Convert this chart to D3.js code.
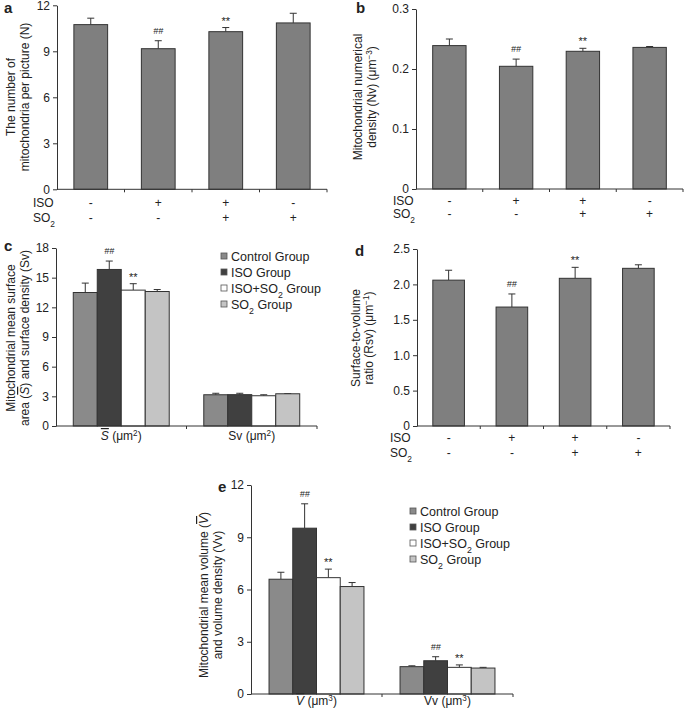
<!DOCTYPE html>
<html><head><meta charset="utf-8">
<script src="https://cdn.jsdelivr.net/npm/d3@7"></script>
<style>
body{margin:0;background:#fff}
text{font-family:"Liberation Sans",Arial,Helvetica,sans-serif;fill:#222}
</style>
</head><body>
<svg id="chart" width="685" height="716"></svg>
<script>
// ---------------- DATA ----------------
const treatments = ["Control", "ISO", "ISO+SO2", "SO2"];
const isoRow = ["-", "+", "+", "-"];
const so2Row = ["-", "-", "+", "+"];

const mitoNumber = [10.74, 9.17, 10.28, 10.85];
const mitoNumberErr = [0.42, 0.52, 0.27, 0.63];
const mitoNumberMarks = ["", "##", "**", ""];
const mitoNumberTicks = [0, 3, 6, 9, 12];

const numDensity = [0.239, 0.2045, 0.2295, 0.236];
const numDensityErr = [0.011, 0.012, 0.005, 0.0015];
const numDensityMarks = ["", "##", "**", ""];
const numDensityTicks = [0, 0.1, 0.2, 0.3];
const numDensityTickLabels = ["0", "0.1", "0.2", "0.3"];

const ratioRsv = [2.06, 1.68, 2.086, 2.227];
const ratioRsvErr = [0.14, 0.185, 0.155, 0.05];
const ratioRsvMarks = ["", "##", "**", ""];
const ratioTicks = [0, 0.5, 1.0, 1.5, 2.0, 2.5];
const ratioTickLabels = ["0", "0.5", "1.0", "1.5", "2.0", "2.5"];

const groupNames = ["Control Group", "ISO Group", "ISO+SO2 Group", "SO2 Group"];

const surfaceCats = ["S", "Sv"];
const surfaceControl = [13.5, 3.16];
const surfaceIso = [15.83, 3.17];
const surfaceIsoSo2 = [13.74, 3.06];
const surfaceSo2 = [13.6, 3.26];
const surfaceControlErr = [0.95, 0.15];
const surfaceIsoErr = [0.85, 0.14];
const surfaceIsoSo2Err = [0.65, 0.1];
const surfaceSo2Err = [0.2, 0.02];
const surfaceMarks = [["", "##", "**", ""], ["", "", "", ""]];
const surfaceTicks = [0, 3, 6, 9, 12, 15, 18];

const volumeCats = ["V", "Vv"];
const volumeControl = [6.59, 1.57];
const volumeIso = [9.52, 1.91];
const volumeIsoSo2 = [6.68, 1.53];
const volumeSo2 = [6.17, 1.49];
const volumeControlErr = [0.4, 0.05];
const volumeIsoErr = [1.4, 0.23];
const volumeIsoSo2Err = [0.49, 0.14];
const volumeSo2Err = [0.23, 0.04];
const volumeMarks = [["", "##", "**", ""], ["", "##", "**", ""]];
const volumeTicks = [0, 3, 6, 9, 12];

// ---------------- STYLE ----------------
const singleFill = "#7f7f7f";
const groupFills = ["#8a8a8a", "#404040", "#ffffff", "#c4c4c4"];
const strokeCol = "#333";
const svg = d3.select("#chart");

// rich text: SO2 -> subscript, ^x -> superscript, ~X -> italic overlined
function rich(t, str) {
  const re = /(SO2|\^[-\d]+|~[A-Z])/g;
  let last = 0, m;
  while ((m = re.exec(str)) !== null) {
    if (m.index > last) t.append("tspan").text(str.slice(last, m.index));
    const tok = m[0];
    if (tok === "SO2") {
      t.append("tspan").text("SO");
      t.append("tspan").attr("baseline-shift", "sub").attr("font-size", "0.7em").text("2");
    } else if (tok[0] === "^") {
      t.append("tspan").attr("baseline-shift", "super").attr("font-size", "0.68em").text(tok.slice(1).replace("-", "\u2212"));
    } else {
      t.append("tspan").attr("font-style", "italic").style("text-decoration", "overline").text(tok.slice(1));
    }
    last = m.index + tok.length;
  }
  if (last < str.length) t.append("tspan").text(str.slice(last));
  return t;
}

function yAxis(g, y, x0, ticks, labels) {
  const ax = d3.axisLeft(y).tickValues(ticks).tickSize(4).tickSizeOuter(0).tickPadding(3)
    .tickFormat((d, i) => labels ? labels[i] : d3.format("d")(d));
  const a = g.append("g").attr("transform", `translate(${x0},0)`).call(ax);
  a.select(".domain").attr("stroke", strokeCol);
  a.selectAll(".tick line").attr("stroke", strokeCol);
  a.selectAll(".tick text").attr("font-size", 12).attr("fill", "#222")
    .style("font-family", '"Liberation Sans",Arial,sans-serif');
}

function yLabel(g, lines, xs, cy) {
  lines.forEach((ln, i) => {
    const t = g.append("text").attr("transform", `translate(${xs[i]},${cy}) rotate(-90)`)
      .attr("text-anchor", "middle").attr("font-size", 12);
    rich(t, ln);
  });
}

function panelLetter(g, letter, x, y) {
  g.append("text").attr("x", x).attr("y", y).attr("font-size", 15).attr("font-weight", "bold").text(letter);
}

function errBar(g, cx, yTop, yBar) {
  g.append("line").attr("x1", cx).attr("x2", cx).attr("y1", yBar).attr("y2", yTop).attr("stroke", strokeCol);
  g.append("line").attr("x1", cx - 3.5).attr("x2", cx + 3.5).attr("y1", yTop).attr("y2", yTop).attr("stroke", strokeCol);
}

function mark(g, cx, yTop, m) {
  if (!m) return;
  const star = m === "**";
  g.append("text").attr("x", cx).attr("y", star ? yTop - 3 : yTop - 7)
    .attr("text-anchor", "middle").attr("font-size", star ? 11 : 9)
    .attr("font-style", star ? "normal" : "italic").text(m);
}

function drawSingle(cfg) {
  const g = svg.append("g");
  const x = d3.scaleBand().domain(treatments).range([cfg.x0, cfg.x1]).paddingInner(0.5).paddingOuter(0.25);
  const y = d3.scaleLinear().domain(cfg.domain).range([cfg.y0, cfg.y1]);
  const step = x.step();
  treatments.forEach((c, i) => {
    const v = cfg.values[i], e = cfg.errors[i];
    const cx = x(c) + x.bandwidth() / 2;
    errBar(g, cx, y(v + e), y(v));
    g.append("rect").attr("x", x(c)).attr("y", y(v)).attr("width", x.bandwidth())
      .attr("height", y(0) - y(v)).attr("fill", singleFill).attr("stroke", strokeCol).attr("stroke-width", 1);
    mark(g, cx, y(v + e), cfg.marks[i]);
    g.append("text").attr("x", cx).attr("y", cfg.rowY[0]).attr("text-anchor", "middle").attr("font-size", 12).text(isoRow[i]);
    g.append("text").attr("x", cx).attr("y", cfg.rowY[1]).attr("text-anchor", "middle").attr("font-size", 12).text(so2Row[i]);
  });
  // x axis
  g.append("line").attr("x1", cfg.x0).attr("x2", cfg.x1).attr("y1", y(0)).attr("y2", y(0)).attr("stroke", strokeCol);
  for (let k = 1; k <= treatments.length; k++) {
    const xx = cfg.x0 + k * step;
    g.append("line").attr("x1", xx).attr("x2", xx).attr("y1", y(0)).attr("y2", y(0) + 3).attr("stroke", strokeCol);
  }
  yAxis(g, y, cfg.x0, cfg.ticks, cfg.tickLabels);
  rich(g.append("text").attr("x", cfg.rowLabelX).attr("y", cfg.rowY[0]).attr("font-size", 12), "ISO");
  rich(g.append("text").attr("x", cfg.rowLabelX).attr("y", cfg.rowY[1]).attr("font-size", 12), "SO2");
  yLabel(g, cfg.label, cfg.labelX, cfg.labelY);
  panelLetter(g, cfg.letter, cfg.letterX, cfg.letterY);
}

function drawGrouped(cfg) {
  const g = svg.append("g");
  const x = d3.scaleBand().domain(cfg.cats).range([cfg.x0, cfg.x1]).padding(0);
  const xs = d3.scaleBand().domain(groupNames).range([0, x.bandwidth()]).paddingInner(0).paddingOuter(cfg.outer);
  const y = d3.scaleLinear().domain(cfg.domain).range([cfg.y0, cfg.y1]);
  cfg.cats.forEach((c, ci) => {
    groupNames.forEach((s, si) => {
      const v = cfg.series[si][ci], e = cfg.errors[si][ci];
      const bx = x(c) + xs(s);
      const cx = bx + xs.bandwidth() / 2;
      errBar(g, cx, y(v + e), y(v));
      g.append("rect").attr("x", bx).attr("y", y(v)).attr("width", xs.bandwidth())
        .attr("height", y(0) - y(v)).attr("fill", groupFills[si]).attr("stroke", strokeCol);
      mark(g, cx, y(v + e), cfg.marks[ci][si]);
    });
    const t = g.append("text").attr("x", x(c) + x.bandwidth() / 2).attr("y", cfg.catY)
      .attr("text-anchor", "middle").attr("font-size", 12);
    rich(t, cfg.catLabels[ci]);
  });
  g.append("line").attr("x1", cfg.x0).attr("x2", cfg.x1).attr("y1", y(0)).attr("y2", y(0)).attr("stroke", strokeCol);
  [x(cfg.cats[1]), cfg.x1].forEach(xx => {
    g.append("line").attr("x1", xx).attr("x2", xx).attr("y1", y(0)).attr("y2", y(0) + 3).attr("stroke", strokeCol);
  });
  yAxis(g, y, cfg.x0, cfg.ticks, null);
  // legend
  groupNames.forEach((s, si) => {
    const ly = cfg.legY + si * 16;
    g.append("rect").attr("x", cfg.legX).attr("y", ly - 3).attr("width", 6).attr("height", 6)
      .attr("fill", groupFills[si]).attr("stroke", "#555").attr("stroke-width", 0.8);
    rich(g.append("text").attr("x", cfg.legX + 10).attr("y", ly + 4.5).attr("font-size", 12.5), s);
  });
  yLabel(g, cfg.label, cfg.labelX, cfg.labelY);
  panelLetter(g, cfg.letter, cfg.letterX, cfg.letterY);
}

// ---------------- PANELS ----------------
drawSingle({
  values: mitoNumber, errors: mitoNumberErr, marks: mitoNumberMarks,
  domain: [0, 12], ticks: mitoNumberTicks, tickLabels: null,
  x0: 57, x1: 327, y0: 189.3, y1: 5.3, rowY: [207, 222], rowLabelX: 33,
  label: ["The number of", "mitochondria per picture (N)"], labelX: [15, 29], labelY: 97,
  letter: "a", letterX: 4, letterY: 13
});
drawSingle({
  values: numDensity, errors: numDensityErr, marks: numDensityMarks,
  domain: [0, 0.3], ticks: numDensityTicks, tickLabels: numDensityTickLabels,
  x0: 416, x1: 683, y0: 189, y1: 9, rowY: [205, 218], rowLabelX: 393,
  label: ["Mitochondrial numerical", "density (Nv) (μm^-3)"], labelX: [362, 376], labelY: 97,
  letter: "b", letterX: 356, letterY: 13
});
drawGrouped({
  cats: surfaceCats, catLabels: ["~S (μm^2)", "Sv (μm^2)"],
  series: [surfaceControl, surfaceIso, surfaceIsoSo2, surfaceSo2],
  errors: [surfaceControlErr, surfaceIsoErr, surfaceIsoSo2Err, surfaceSo2Err],
  marks: surfaceMarks, domain: [0, 18], ticks: surfaceTicks,
  x0: 56, x1: 317, y0: 426, y1: 248, outer: 0.72, catY: 440,
  legX: 221, legY: 256,
  label: ["Mitochondrial mean surface", "area (~S) and surface density (Sv)"], labelX: [15, 29], labelY: 338,
  letter: "c", letterX: 4, letterY: 251
});
drawSingle({
  values: ratioRsv, errors: ratioRsvErr, marks: ratioRsvMarks,
  domain: [0, 2.5], ticks: ratioTicks, tickLabels: ratioTickLabels,
  x0: 417, x1: 670, y0: 426, y1: 249, rowY: [442, 457], rowLabelX: 390,
  label: ["Surface-to-volume", "ratio (Rsv) (μm^-1)"], labelX: [360, 373], labelY: 338,
  letter: "d", letterX: 355, letterY: 256
});
drawGrouped({
  cats: volumeCats, catLabels: ["~V (μm^3)", "Vv (μm^3)"],
  series: [volumeControl, volumeIso, volumeIsoSo2, volumeSo2],
  errors: [volumeControlErr, volumeIsoErr, volumeIsoSo2Err, volumeSo2Err],
  marks: volumeMarks, domain: [0, 12], ticks: volumeTicks,
  x0: 251, x1: 513, y0: 694, y1: 485, outer: 0.76, catY: 705,
  legX: 410, legY: 511,
  label: ["Mitochondrial mean volume (~V)", "and volume density (Vv)"], labelX: [208, 222], labelY: 595,
  letter: "e", letterX: 218, letterY: 492
});
</script>
</body></html>
